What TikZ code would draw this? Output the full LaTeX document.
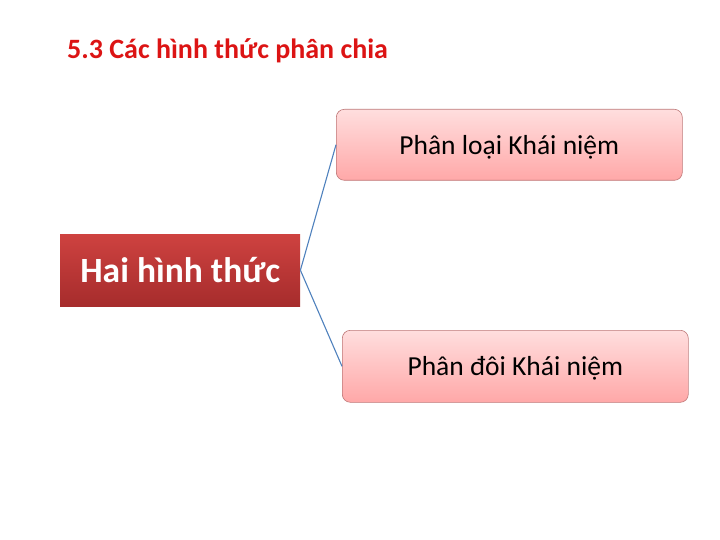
\documentclass[tikz,border=0pt]{standalone}
\usepackage{fontspec}
\setmainfont{Carlito}
\begin{document}
\begin{tikzpicture}[x=1pt,y=-1pt,
  pinkbox/.style={draw=pinkedge, line width=0.6pt, rounded corners=8pt, top color=pinktop, bottom color=pinkbot, inner sep=0pt},
  redbox/.style={top color=redtop, bottom color=redbot, draw=none, inner sep=0pt},
  link/.style={draw=linkblue, line width=1.1pt}]
\definecolor{pinkedge}{RGB}{190,120,120}
\definecolor{pinktop}{RGB}{255,222,222}
\definecolor{pinkbot}{RGB}{255,168,168}
\definecolor{redtop}{RGB}{206,66,64}
\definecolor{redbot}{RGB}{166,44,44}
\definecolor{linkblue}{RGB}{79,129,189}
\definecolor{titlered}{RGB}{220,20,20}
\useasboundingbox (0,0) rectangle (720,540);
\node[anchor=base west, text=titlered, font=\bfseries\fontsize{28}{32}\selectfont, inner sep=0pt] (title) at (67,59) {5.3 Các hình thức phân chia};
\node[redbox, minimum width=240pt, minimum height=72pt, anchor=north west] (hai) at (60,234) {};
\node[text=white, font=\bfseries\fontsize{35.5}{40}\selectfont] at (hai.center) {Hai hình thức};
\node[pinkbox, minimum width=346pt, minimum height=71pt, anchor=north west] (loai) at (336,109) {};
\node[font=\fontsize{27.5}{32}\selectfont] at ([yshift=-2pt]loai.center) {Phân loại Khái niệm};
\node[pinkbox, minimum width=346pt, minimum height=72pt, anchor=north west] (doi) at (342,330) {};
\node[font=\fontsize{27.5}{32}\selectfont] at ([yshift=-2pt]doi.center) {Phân đôi Khái niệm};
\draw[link] (hai.east) -- (loai.west);
\draw[link] (hai.east) -- (doi.west);
\end{tikzpicture}
\end{document}
